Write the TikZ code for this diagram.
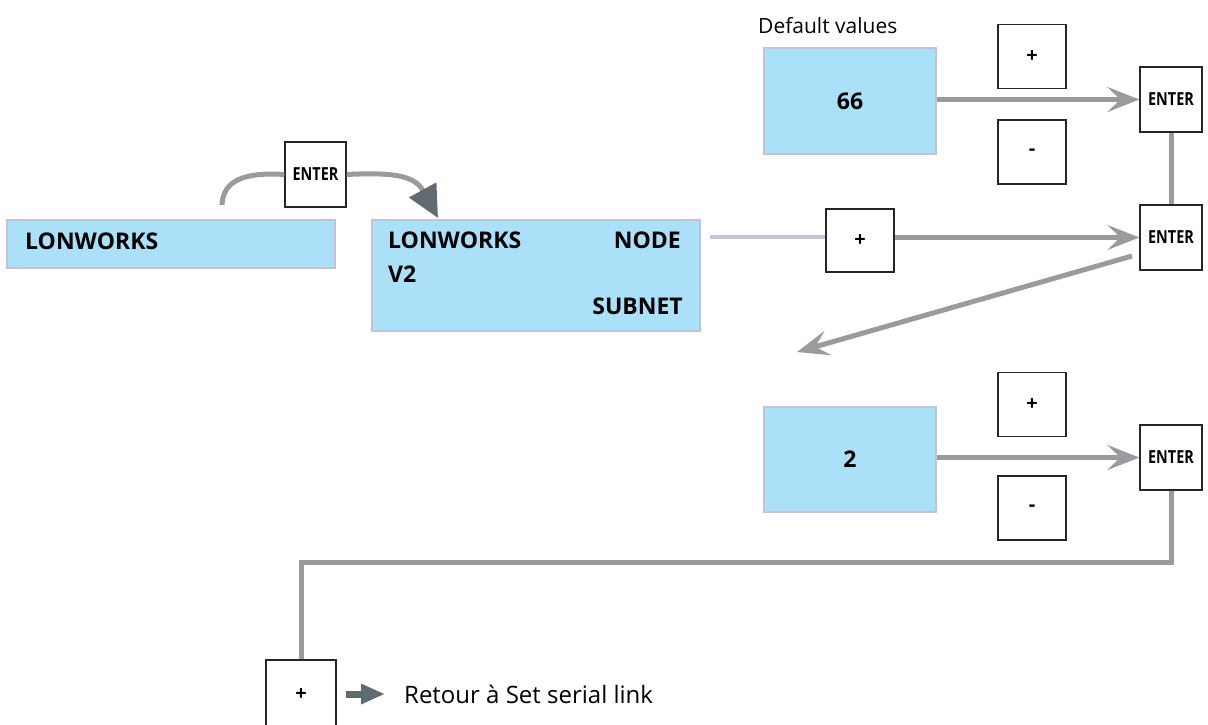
\documentclass[tikz,border=0pt]{standalone}
\usepackage{fontspec}
\setmainfont{Open Sans}
\newfontfamily\narrowfont[FakeStretch=0.8]{Open Sans}
\usetikzlibrary{arrows.meta}
\definecolor{lcdblue}{HTML}{ABE0F9}
\definecolor{lcdborder}{HTML}{C5C1D6}
\definecolor{linegray}{HTML}{999B9E}
\definecolor{slate}{HTML}{5F6B70}
\definecolor{lav}{HTML}{CAC2D8}
\tikzset{
  lcd/.style={draw=lcdborder, line width=2.5pt, fill=lcdblue, inner sep=0pt},
  key/.style={draw=black!85, line width=1.3pt, fill=white, inner sep=0pt, font=\fontsize{20}{20}\selectfont\bfseries},
  entkey/.style={key, minimum width=62pt, minimum height=65pt, font=\narrowfont\fontsize{18}{18}\selectfont\bfseries},
  pmkey/.style={key, minimum width=68pt, minimum height=64pt},
  lcdtxt/.style={font=\fontsize{23}{23}\selectfont\bfseries, inner sep=0pt},
  conn/.style={draw=linegray, line width=5pt},
  openarr/.style={conn, -{Stealth[length=32pt,width=25pt,inset=13pt,fill=linegray]}},
}
\begin{document}
\begin{tikzpicture}[x=1pt,y=-1pt]
\useasboundingbox (0,0) rectangle (1208,724);
% LCD displays
\node[lcd, minimum width=328pt, minimum height=48pt] (lcdA) at (171,244) {};
\node[lcdtxt, anchor=west] (tA) at (25,241) {LONWORKS};
\node[lcd, minimum width=328pt, minimum height=111pt] (lcdB) at (536,275.5) {};
\node[lcdtxt, anchor=west] (tB1) at (388,240) {LONWORKS};
\node[lcdtxt, anchor=east] (tB2) at (681,240) {NODE};
\node[lcdtxt, anchor=west] (tB3) at (388,274) {V2};
\node[lcdtxt, anchor=east] (tB4) at (683,306) {SUBNET};
\node[lcd, minimum width=172pt, minimum height=106pt, font=\fontsize{23}{23}\selectfont\bfseries] (v66) at (850,101) {66};
\node[lcd, minimum width=172pt, minimum height=105pt, font=\fontsize{23}{23}\selectfont\bfseries] (v2) at (850,459.5) {2};
\node[anchor=west, inner sep=0pt, font=\fontsize{21}{21}\selectfont] (dv) at (758,26) {Default values};
% keys
\node[entkey, minimum width=61pt] (k0) at (315.5,174.5) {ENTER};
\node[pmkey] (p1) at (1032,56.5) {+};
\node[pmkey] (m1) at (1032,152) {-};
\node[entkey] (e1) at (1171,99.5) {ENTER};
\node[entkey] (e2) at (1171,237.5) {ENTER};
\node[pmkey, minimum height=63pt] (pm) at (860,240.5) {+};
\node[pmkey] (p2) at (1032,404.5) {+};
\node[pmkey] (m2) at (1032,508) {-};
\node[entkey] (e3) at (1171,457.5) {ENTER};
\node[pmkey, minimum width=70pt, minimum height=70pt] (pb) at (301,695) {+};
\node[anchor=west, inner sep=0pt, font=\fontsize{24}{24}\selectfont] (ret) at (404,694) {Retour à Set serial link};
% connectors
\coordinate (c0) at (222,205);
\coordinate (tip0) at (438,218);
\draw[conn] (c0) .. controls (223,180) and (245,172) .. (k0.west);
\draw[conn, -{Triangle[length=32pt,width=30pt,fill=slate,color=slate]}] (k0.east) .. controls (395,172) and (415,176) .. (tip0);
\draw[openarr] (v66.east |- e1.west) -- (e1.west);
\draw[conn] (e1.south) -- (e2.north);
\coordinate (lv) at (710,237);
\draw[draw=lav, line width=4pt] (lv) -- (pm.west |- lv);
\draw[openarr] (pm.east |- e2.west) -- (e2.west);
\coordinate (d0) at (1132,256);
\coordinate (d1) at (797,352);
\draw[openarr] (d0) -- (d1);
\draw[openarr] (v2.east |- e3.west) -- (e3.west);
\coordinate (turn) at (301,562);
\draw[conn] (e3.south) |- (turn) -- (pb.north);
\draw[slate, line width=7pt, -{Triangle[length=24pt,width=19pt]}, shorten <=9pt, shorten >=19pt] (pb.east |- ret.west) -- (ret.west);
\end{tikzpicture}
\end{document}
